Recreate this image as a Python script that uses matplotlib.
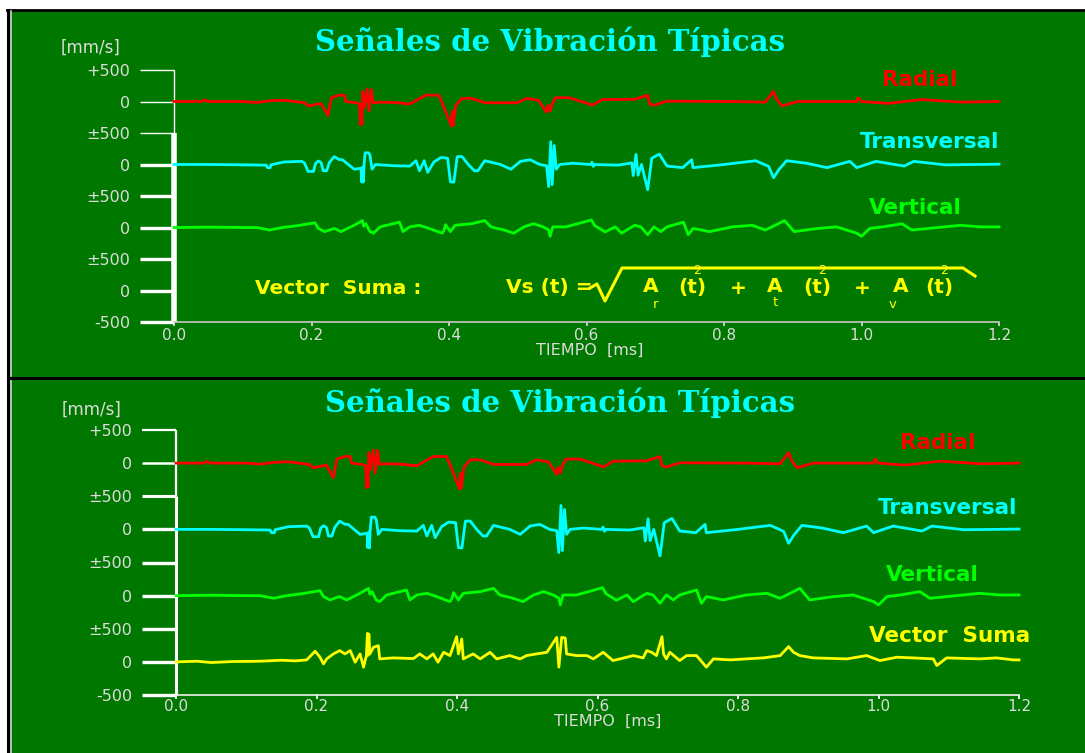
import numpy as np
import matplotlib
matplotlib.use("Agg")
from matplotlib import pyplot as plt
from matplotlib.lines import Line2D
from matplotlib.patches import Rectangle

W, H = 1085, 753

# signals: (time [ms], velocity [mm/s])
radial = [
    (0.000, 0), (0.040, 0), (0.044, 25), (0.050, 0), (0.100, 0), (0.120, -15),
    (0.143, 15), (0.160, 20), (0.190, -20), (0.195, -70), (0.205, -50), (0.214, -30),
    (0.224, -220), (0.229, 60), (0.240, 100), (0.248, 100), (0.250, 0), (0.265, -20),
    (0.270, -40), (0.271, -370), (0.2722, -80), (0.2733, -360), (0.2745, 160),
    (0.2765, -100), (0.281, 200), (0.2835, -150), (0.287, 190), (0.2885, 60),
    (0.290, -20), (0.300, -10), (0.320, -15), (0.343, -40), (0.366, 100), (0.385, 100),
    (0.390, -20), (0.4035, -390), (0.405, -150), (0.406, -380), (0.410, -60), (0.419, 50),
    (0.433, 50), (0.452, -20), (0.499, -20), (0.513, 50), (0.530, 20), (0.542, -170),
    (0.544, -60), (0.547, -150), (0.550, -40), (0.555, 60),
    (0.575, 60), (0.604, -40), (0.608, -60), (0.623, 30), (0.670, 35), (0.689, 100),
    (0.692, -40), (0.698, -60), (0.717, 5), (0.812, 0), (0.860, -10), (0.872, 160),
    (0.877, 30), (0.884, -70), (0.907, 0), (0.993, 0), (0.995, 60), (1.000, 0),
    (1.038, -30), (1.088, 30), (1.145, -10), (1.200, 0),
]

transversal = [
    (0.000, 0), (0.050, 0), (0.100, -5), (0.134, -10), (0.136, -50), (0.140, -50),
    (0.141, -5), (0.160, 40), (0.186, 50), (0.190, 20), (0.195, -110), (0.203, -110),
    (0.206, 20), (0.210, 55), (0.214, 30), (0.217, -100), (0.222, -100), (0.226, 30),
    (0.233, 125), (0.240, 80), (0.245, 75), (0.262, -75), (0.272, -60), (0.273, -275),
    (0.2742, -40), (0.2752, -280), (0.2765, 0), (0.278, 185), (0.283, 185), (0.285, 150),
    (0.288, -75), (0.293, 0),
    (0.320, -20), (0.343, -25), (0.352, 60), (0.357, -100), (0.364, 60), (0.369, -125),
    (0.378, 40), (0.388, 110), (0.398, 100), (0.402, -275), (0.407, -280), (0.412, 125),
    (0.419, 125), (0.428, 0), (0.437, -100), (0.442, -100), (0.452, 60), (0.475, 0),
    (0.490, -75), (0.504, 50), (0.518, 75), (0.532, 0), (0.542, -20), (0.545, -350),
    (0.548, 360), (0.550, -320), (0.553, 300), (0.556, -75), (0.561, 0), (0.580, 20),
    (0.606, 0), (0.608, 35), (0.610, -30), (0.612, 0), (0.646, -10), (0.666, 25),
    (0.668, -175), (0.672, 160), (0.675, -170), (0.680, 0), (0.689, -400), (0.695, 100),
    (0.706, 165), (0.717, -25), (0.740, -50), (0.753, 75), (0.755, -50), (0.800, 0),
    (0.846, 60), (0.865, -30), (0.872, -210), (0.880, -80), (0.891, 60), (0.920, 20),
    (0.950, -50), (0.983, 50), (0.993, -50), (1.021, 50), (1.062, -25), (1.076, 50),
    (1.121, -5), (1.168, 0), (1.200, 5),
]

vertical = [
    (0.000, 0), (0.050, 5), (0.100, 0), (0.120, 0), (0.139, -40), (0.158, 0),
    (0.180, 30), (0.205, 75), (0.210, -15), (0.219, -65), (0.233, -15), (0.243, -65),
    (0.262, 35), (0.274, 110), (0.276, 20), (0.279, 60), (0.285, -65), (0.290, -90),
    (0.300, 10), (0.328, 85), (0.333, -65), (0.343, 10), (0.357, 35), (0.371, -15),
    (0.390, -90), (0.393, -40), (0.395, 45), (0.402, -65), (0.409, 35), (0.433, 60),
    (0.452, 110), (0.461, 10), (0.480, -40), (0.494, -90), (0.509, 10), (0.523, 60),
    (0.537, 10), (0.545, -40), (0.547, -140), (0.551, 10), (0.570, 10), (0.594, 80),
    (0.607, 120), (0.612, 30), (0.627, -70), (0.642, 10), (0.651, -90), (0.670, 35),
    (0.679, 10), (0.689, -115), (0.698, 10), (0.708, -65), (0.717, 10), (0.741, 85),
    (0.748, -115), (0.755, -15), (0.779, -65), (0.812, 10), (0.841, 35), (0.860, -40),
    (0.879, 60), (0.888, 110), (0.902, -65), (0.936, -15), (0.964, 10), (0.993, -90),
    (1.000, -140), (1.012, -15), (1.031, 10), (1.059, 60), (1.073, -40), (1.097, -15),
    (1.144, 35), (1.173, 10), (1.200, 10),
]

vector_sum = [
    (0.000, 0), (0.030, 10), (0.050, -10), (0.080, 5), (0.120, 10), (0.150, 25),
    (0.170, 15), (0.186, 30), (0.198, 160), (0.205, 70), (0.210, -30), (0.2145, 45),
    (0.224, 120), (0.233, 170), (0.2406, 120), (0.248, 170), (0.255, -5), (0.262, 120),
    (0.267, -80), (0.271, 95), (0.2725, 430), (0.2735, 100), (0.2745, 420), (0.276, 120),
    (0.281, 220), (0.288, 245),
    (0.290, 45), (0.309, 60), (0.338, 50), (0.347, 120), (0.357, 45), (0.366, 120),
    (0.373, -5), (0.381, 145), (0.390, 95), (0.3995, 380), (0.402, 120), (0.4067, 345),
    (0.409, 45), (0.423, 120), (0.433, 45), (0.447, 145), (0.4565, 45), (0.475, 95),
    (0.490, 45), (0.499, 95), (0.513, 120), (0.528, 145), (0.542, 370), (0.545, -80),
    (0.549, 370), (0.554, 360), (0.556, 120), (0.570, 95), (0.585, 95), (0.594, 45),
    (0.608, 145), (0.622, 20), (0.632, 45), (0.651, 95), (0.665, 60), (0.670, 170),
    (0.677, 145), (0.684, 95), (0.6918, 380), (0.694, 120), (0.698, 45), (0.703, 145),
    (0.717, 20), (0.727, 95), (0.741, 95), (0.755, -80), (0.765, 45), (0.789, 30),
    (0.812, 45), (0.836, 60), (0.860, 95), (0.872, 230), (0.879, 145), (0.888, 95),
    (0.907, 60), (0.955, 45), (0.983, 95), (1.002, 20), (1.026, 70), (1.049, 60),
    (1.078, 45), (1.083, -55), (1.097, 60), (1.144, 45), (1.168, 60), (1.192, 30),
    (1.200, 30),
]

y_ticks = [0, 500, 1000, 1500, 2000, 2500, 3000, 3500, 4000]
y_tick_labels = ["-500", "0", "±500", "0", "±500", "0", "±500", "0", "+500"]
x_ticks = [0.0, 0.2, 0.4, 0.6, 0.8, 1.0, 1.2]
x_tick_labels = ["0.0", "0.2", "0.4", "0.6", "0.8", "1.0", "1.2"]

BG = "#007800"
RED, CYAN, LIME, YELLOW = "#ff0000", "#00ffff", "#00ff00", "#ffff00"
GREY = "#dcdcdc"


def fx(x):
    return x / W


def fy(y):
    return 1 - y / H


fig = plt.figure(figsize=(W / 100, H / 100), dpi=100)
fig.patch.set_facecolor("white")

# background + frame
fig.patches.append(Rectangle((fx(9), 0), 1 - fx(9), fy(10), transform=fig.transFigure,
                             facecolor=BG, edgecolor="none", zorder=-5))
for xs, ys, lw, c in [
    ([7, 1085], [10, 10], 2.0, "black"),
    ([8, 8], [10, 753], 2.2, "black"),
    ([11, 11], [11, 376], 1.2, "#d0d0d0"),
    ([11, 11], [380, 753], 1.2, "#d0d0d0"),
    ([8, 1085], [378, 378], 2.2, "black"),
]:
    fig.lines.append(Line2D([fx(v) for v in xs], [fy(v) for v in ys],
                            transform=fig.transFigure, color=c, lw=lw, zorder=-4))


def panel(left_px, right_px, top_px, bot_px, widths, spine_lw, axis_col, xpad):
    ax = fig.add_axes([fx(left_px), fy(bot_px), fx(right_px - left_px),
                       (bot_px - top_px) / H])
    ax.set_facecolor("none")
    ax.set_xlim(0, 1.2)
    ax.set_ylim(0, 4000)
    for s in ["top", "right", "left"]:
        ax.spines[s].set_visible(False)
    ax.spines["bottom"].set_color(axis_col)
    ax.spines["bottom"].set_linewidth(1.2)
    ax.set_yticks(y_ticks, y_tick_labels)
    ax.set_xticks(x_ticks, x_tick_labels)
    ax.tick_params(axis="y", length=24.5, color="white", pad=7,
                   labelsize=11.5, labelcolor=GREY)
    ax.tick_params(axis="x", length=3, width=1.4, color=axis_col, pad=xpad,
                   labelsize=11, labelcolor=GREY)
    for t, w in zip(ax.yaxis.get_major_ticks(), widths):
        t.tick1line.set_markeredgewidth(w)
    ax.plot([0, 0], [3000, 4000], color="white", lw=spine_lw[0], clip_on=False,
            solid_capstyle="butt")
    ax.plot([0, 0], [0, 3000], color="white", lw=spine_lw[1], clip_on=False,
            solid_capstyle="butt")
    return ax


def draw(ax, pts, off, color):
    arr = np.array(pts, dtype=float)
    ax.plot(arr[:, 0], arr[:, 1] + off, color=color, lw=2.0, clip_on=False)


# ---------- top panel ----------
ax1 = panel(174, 999, 70, 322,
            [2.4, 2.4, 2.4, 2.4, 2.4, 2.4, 1.0, 1.0, 1.0], (1.0, 4.0), "#c8c8c8", 1.5)
draw(ax1, radial, 3500, RED)
draw(ax1, transversal, 2500, CYAN)
draw(ax1, vertical, 1500, LIME)

# ---------- bottom panel ----------
ax2 = panel(176, 1019, 430, 695,
            [2.4, 2.4, 2.4, 2.4, 2.4, 2.4, 2.2, 1.8, 1.6], (1.6, 2.2), "#f0f0f0", 0.0)
draw(ax2, radial, 3500, RED)
draw(ax2, transversal, 2500, CYAN)
draw(ax2, vertical, 1500, LIME)
draw(ax2, vector_sum, 500, YELLOW)


def ftext(x, y, s, color, size, weight="bold", family="DejaVu Sans", ha="center"):
    fig.text(fx(x), fy(y), s, color=color, fontsize=size, fontweight=weight,
             family=family, ha=ha, va="center")


ftext(550, 42, "Señales de Vibración Típicas", CYAN, 21, family="DejaVu Serif")
ftext(560, 403, "Señales de Vibración Típicas", CYAN, 21, family="DejaVu Serif")
ftext(91, 48, "[mm/s]", GREY, 12, weight="normal")
ftext(92, 410, "[mm/s]", GREY, 12, weight="normal")
ftext(590, 350, "TIEMPO  [ms]", GREY, 11.5, weight="normal")
ftext(608, 721, "TIEMPO  [ms]", GREY, 11.5, weight="normal")

ftext(920, 80, "Radial", RED, 15.5)
ftext(930, 142, "Transversal", CYAN, 15.5)
ftext(915, 208, "Vertical", LIME, 15.5)
ftext(938, 443, "Radial", RED, 15.5)
ftext(948, 508, "Transversal", CYAN, 15.5)
ftext(932, 575, "Vertical", LIME, 15.5)
ftext(950, 636, "Vector  Suma", YELLOW, 15.5)

# formula in the top panel
ftext(338, 288, "Vector  Suma :", YELLOW, 14.5)
ftext(593, 288, "Vs (t) =", YELLOW, 14.5, ha="right")
root_x = [590, 597, 605, 622, 963, 975]
root_y = [288, 284, 301, 268, 268, 276]
fig.lines.append(Line2D([fx(v) for v in root_x], [fy(v) for v in root_y],
                        transform=fig.transFigure, color=YELLOW, lw=2.2))
for ax_x, sub, sx, sy, pt_x, plus_x in [
    (651, "r", 655, 304, 692, 738),
    (775, "t", 775, 302, 817, 862),
    (901, "v", 893, 304, 939, None),
]:
    ftext(ax_x, 287, "A", YELLOW, 14.5)
    ftext(sx, sy, sub, YELLOW, 9.5, weight="normal")
    ftext(pt_x, 288, "(t)", YELLOW, 14.5)
    ftext(pt_x + 5, 271, "2", YELLOW, 9, weight="normal")
    if plus_x:
        ftext(plus_x, 288, "+", YELLOW, 14.5)

fig.savefig("out.png", dpi=100)
